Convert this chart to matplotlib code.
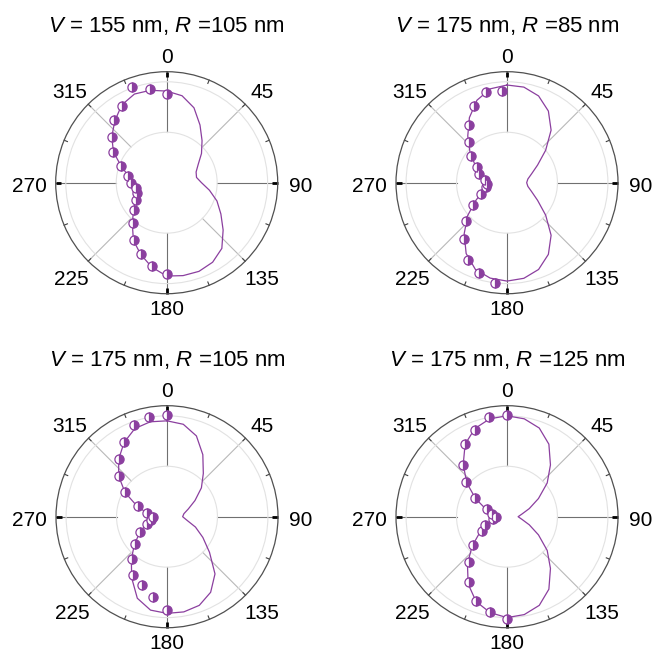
"""
Polar emission patterns for four (V, R) geometries: measured points
(half-filled circles) over the calculated curve.
Writes: out.png
"""
import matplotlib
matplotlib.use("Agg")
import matplotlib.pyplot as plt
import numpy as np

plt.rcParams["font.family"] = ["Liberation Sans", "DejaVu Sans"]
plt.rcParams["mathtext.fontset"] = "custom"
plt.rcParams["mathtext.rm"] = "Liberation Sans"
plt.rcParams["mathtext.it"] = "Liberation Sans:italic"

PURPLE = "#8b3f9f"

TITLES = [
    r"$V$ = 155 nm, $R$ =105 nm",
    r"$V$ = 175 nm, $R$ =85 nm",
    r"$V$ = 175 nm, $R$ =105 nm",
    r"$V$ = 175 nm, $R$ =125 nm",
]

THETA_TICKS = [0, 45, 90, 135, 180, 225, 270, 315]

# calculated curve, degrees (clockwise from top) and normalised intensity
CURVE_ANG = [0, 10, 20, 30, 40, 50, 60, 70, 80, 90, 100, 110, 120,
             130, 140, 150, 160, 170, 180, 190, 200, 210, 220, 230, 240,
             250, 260, 270, 280, 290, 300, 310, 320, 330, 340, 350, 360]

curve_a = [0.908, 0.875, 0.79, 0.66, 0.545, 0.45, 0.36, 0.31, 0.30, 0.345,
           0.43, 0.53, 0.62, 0.73, 0.85, 0.91, 0.935, 0.935, 0.925, 0.85,
           0.755, 0.66, 0.53, 0.43, 0.36, 0.32, 0.315, 0.35, 0.385, 0.48,
           0.61, 0.71, 0.80, 0.89, 0.935, 0.93, 0.908]
curve_b = [0.968, 0.962, 0.915, 0.82, 0.68, 0.50, 0.35, 0.26, 0.21, 0.195,
           0.21, 0.26, 0.35, 0.50, 0.68, 0.82, 0.915, 0.962, 0.975, 0.96,
           0.915, 0.81, 0.66, 0.51, 0.36, 0.26, 0.20, 0.19, 0.225, 0.29,
           0.37, 0.48, 0.605, 0.745, 0.87, 0.945, 0.968]
curve_c = [0.95, 0.93, 0.852, 0.71, 0.56, 0.445, 0.32, 0.225, 0.17, 0.155,
           0.20, 0.30, 0.41, 0.55, 0.74, 0.865, 0.935, 0.958, 0.958, 0.94,
           0.86, 0.70, 0.55, 0.42, 0.31, 0.22, 0.16, 0.145, 0.20, 0.32,
           0.48, 0.625, 0.745, 0.85, 0.93, 0.955, 0.95]
curve_d = [1.0, 0.985, 0.935, 0.83, 0.67, 0.52, 0.36, 0.235, 0.15, 0.11,
           0.15, 0.235, 0.36, 0.52, 0.67, 0.83, 0.935, 0.985, 1.0, 0.965,
           0.895, 0.77, 0.61, 0.45, 0.31, 0.21, 0.14, 0.11, 0.145, 0.225,
           0.36, 0.52, 0.675, 0.83, 0.93, 0.985, 1.0]

# measured points
MEAS_ANG = [180, 190, 200, 210, 220, 230, 240, 250, 260, 270,
            280, 290, 300, 310, 320, 330, 340, 350, 360]
meas_b_ang = [187, 197, 207, 217, 227, 237, 247, 257, 267, 277,
              287, 297, 307, 317, 327, 337, 347, 357]

meas_a = [0.908, 0.836, 0.749, 0.654, 0.52, 0.42, 0.35, 0.31, 0.31, 0.355,
          0.385, 0.485, 0.613, 0.71, 0.805, 0.878, 1.01, 0.938, 0.875]
meas_b = [1.005, 0.94, 0.86, 0.70, 0.56, 0.40, 0.28, 0.21, 0.195, 0.22,
          0.286, 0.337, 0.446, 0.558, 0.686, 0.825, 0.92, 0.912]
meas_c = [0.925, 0.805, 0.723, 0.665, 0.547, 0.415, 0.31, 0.215, 0.16, 0.136,
          0.197, 0.31, 0.48, 0.627, 0.743, 0.852, 0.968, 1.005, 1.004]
meas_d = [1.01, 0.958, 0.891, 0.75, 0.589, 0.436, 0.29, 0.232, 0.14, 0.11,
          0.15, 0.215, 0.363, 0.53, 0.673, 0.827, 0.915, 1.007, 1.004]

# where the angle labels sit, px from the dial centre (x right, y down)
LABEL_OFFSET = {0: (0, -127.5), 45: (95, -92.5), 90: (134, 2),
                135: (95, 95), 180: (0, 124.5), 225: (-95, 95),
                270: (-137.5, 2), 315: (-97, -92.5)}


def plot_one_panel(ax, title, curve_r, m_ang, m_r):
    ax.set_theta_zero_location("N")
    ax.set_theta_direction(-1)
    ax.set_rlim(0, 1.1)
    ax.set_rticks([0.5, 1.0])
    ax.set_yticklabels([])
    ax.yaxis.grid(True, color="#e2e2e2", lw=0.8)
    ax.xaxis.grid(False)
    ax.spines["polar"].set_color("#505050")
    ax.spines["polar"].set_linewidth(0.9)

    ax.set_xticks(np.deg2rad(THETA_TICKS))
    ax.set_xticklabels([])
    ax.tick_params(axis="x", length=0)
    for t in THETA_TICKS:
        dx, dy = LABEL_OFFSET[t]
        ax.annotate(str(t), xy=(0.5, 0.5), xycoords="axes fraction",
                    xytext=(dx * 0.72, -dy * 0.72), textcoords="offset points",
                    ha="center", va="center_baseline", fontsize=15,
                    annotation_clip=False)

    # spokes from the inner ring outwards
    for a in THETA_TICKS:
        col = "#707070" if a % 90 == 0 else "#b8b8b8"
        ax.plot([np.deg2rad(a)] * 2, [0.5, 1.1], color=col, lw=0.8, zorder=1)
    # short ticks on the rim every 22.5 deg
    for a in np.arange(0, 360, 22.5):
        if a % 90 == 0:
            ax.plot([np.deg2rad(a)] * 2, [1.045, 1.1], color="black",
                    lw=2.0, zorder=2, clip_on=False, solid_capstyle="butt")
        else:
            ax.plot([np.deg2rad(a)] * 2, [1.065, 1.1], color="#404040",
                    lw=0.8, zorder=2, clip_on=False)

    ax.plot(np.deg2rad(CURVE_ANG), curve_r, color=PURPLE, lw=0.9, zorder=3)
    ax.plot(np.deg2rad(m_ang), m_r, "o", ls="none", ms=6.6,
            fillstyle="right", mfc=PURPLE, mfcalt="white", mec=PURPLE,
            mew=0.9, zorder=4, clip_on=False)
    ax.set_title(title, fontsize=16, y=1.18, pad=0)


def main():
    fig = plt.figure(figsize=(6.52, 6.54), dpi=100)
    W, H = 652.0, 654.0
    rad = 111.0
    centres = [(166.7, 182.7), (507.0, 182.7), (167.0, 516.7), (507.0, 516.7)]
    panels = [
        (TITLES[0], curve_a, MEAS_ANG, meas_a),
        (TITLES[1], curve_b, meas_b_ang, meas_b),
        (TITLES[2], curve_c, MEAS_ANG, meas_c),
        (TITLES[3], curve_d, MEAS_ANG, meas_d),
    ]
    for (cx, cy), (title, cr, ma, mr) in zip(centres, panels):
        ax = fig.add_axes([(cx - rad) / W, (H - cy - rad) / H,
                           2 * rad / W, 2 * rad / H], projection="polar")
        plot_one_panel(ax, title, cr, ma, mr)

    fig.savefig("out.png", dpi=100)


if __name__ == "__main__":
    main()
